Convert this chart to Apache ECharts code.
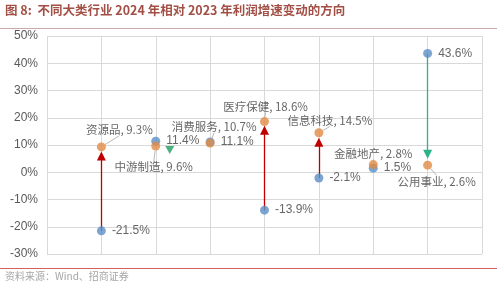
<!DOCTYPE html>
<html><head><meta charset="utf-8">
<script src="https://cdn.jsdelivr.net/npm/echarts@6/dist/echarts.min.js"></script>
<style>html,body{margin:0;padding:0;background:#fff}#c{width:500px;height:285px}</style>
</head><body><div id="c"></div>
<script>
const categories = ['资源品','中游制造','消费服务','医疗保健','信息科技','金融地产','公用事业'];
const growth2023 = [-21.5, 11.4, 11.1, -13.9, -2.1, 1.5, 43.6];
const growth2024 = [9.3, 9.6, 10.7, 18.6, 14.5, 2.8, 2.6];
// arrow tip values (arrow heads stop short of 2024 points)
const arrowTips = [6.0, 8.2, null, 15.4, 11.0, null, 6.6];
const yTicks = [-30, -20, -10, 0, 10, 20, 30, 40, 50];

const RED = '#C00000', GREEN = '#2DB38A', BLUE = '#5B8FC7', ORANGE = '#E08B45';
const CJK = '"Noto Sans CJK SC", "Liberation Sans", sans-serif';

// label offsets (style only) for 2024 labels, label centre relative to point
const lblOff = [[18,-17],[-2,21],[4,-16],[1,-15],[11,-12],[0,-11],[9,16]];

const orangeData = growth2024.map((v,i)=>({
  value:[i+1, v],
  label:{formatter: categories[i] + ', ' + v.toFixed(1) + '%'}
}));
const blueData = growth2023.map((v,i)=>({value:[i+1, v]}));

const redArrows = [], greenArrows = [], greenHeads = [];
growth2023.forEach((v,i)=>{
  const t = arrowTips[i];
  if (t === null) return;
  const up = growth2024[i] > v;
  if (i === 1) { greenHeads.push([i+1, t]); return; }
  (up ? redArrows : greenArrows).push({coords:[[i+1, v],[i+1, t]]});
});

const chart = echarts.init(document.getElementById('c'), null, {renderer:'canvas'});
chart.setOption({
  animation:false,
  textStyle:{fontFamily:CJK},
  grid:{left:47, right:18, top:36, bottom:31},
  xAxis:{type:'value', min:0, max:8, interval:1,
    axisLine:{show:false}, axisTick:{show:false}, axisLabel:{show:false},
    splitLine:{show:true, lineStyle:{color:'#D9D9D9', width:1}}},
  yAxis:{type:'value', min:yTicks[0], max:yTicks[yTicks.length-1], interval:10,
    axisLine:{show:false}, axisTick:{show:false},
    axisLabel:{formatter:'{value}%', color:'#595959', fontSize:12, margin:9, fontFamily:'"Liberation Sans", Arial, sans-serif'},
    splitLine:{show:true, lineStyle:{color:'#D9D9D9', width:1}}},
  series:[
    {type:'lines', coordinateSystem:'cartesian2d', z:2,
     symbol:['none','triangle'], symbolSize:[0,9],
     lineStyle:{color:RED, width:1.3, opacity:1},
     data:redArrows},
    {type:'lines', coordinateSystem:'cartesian2d', z:2,
     symbol:['none','triangle'], symbolSize:[0,9],
     lineStyle:{color:GREEN, width:1.3, opacity:1},
     itemStyle:{color:'#1E9E62'},
     data:greenArrows},
    {type:'scatter', z:3, symbol:'triangle', symbolRotate:180, symbolSize:[9,8],
     symbolOffset:[14,0], itemStyle:{color:'#1E9E62'}, data:greenHeads},
    {type:'scatter', z:4, symbolSize:9, itemStyle:{color:BLUE},
     label:{show:true, position:'right', distance:6, color:'#404040', fontSize:12,
       fontFamily:'"Liberation Sans", Arial, sans-serif',
       formatter:(p)=>p.value[1].toFixed(1)+'%'},
     data:blueData},
    {type:'scatter', z:5, symbolSize:9, itemStyle:{color:ORANGE},
     label:{show:true, position:'inside', color:'#404040', fontSize:11.5, fontFamily:CJK},
     labelLine:{show:true, lineStyle:{color:'#A6A6A6', width:0.8}},
     labelLayout:(p)=>({dx: lblOff[p.dataIndex][0], dy: lblOff[p.dataIndex][1]}),
     data:orangeData}
  ],
  graphic:[
    {type:'text', left:5, top:4, style:{text:'图 8:  不同大类行业 2024 年相对 2023 年利润增速变动的方向',
      fill:'#A24F45', font:'bold 12.5px '+CJK}},
    {type:'rect', shape:{x:0, y:28, width:497, height:1}, style:{fill:'#C9A9A5'}},
    {type:'rect', shape:{x:0, y:268, width:497, height:1}, style:{fill:'#D36060'}},
    {type:'text', left:5, top:271, style:{text:'资料来源：Wind、招商证券', fill:'#A6A6A6', font:'10px '+CJK}}
  ]
});
</script></body></html>
